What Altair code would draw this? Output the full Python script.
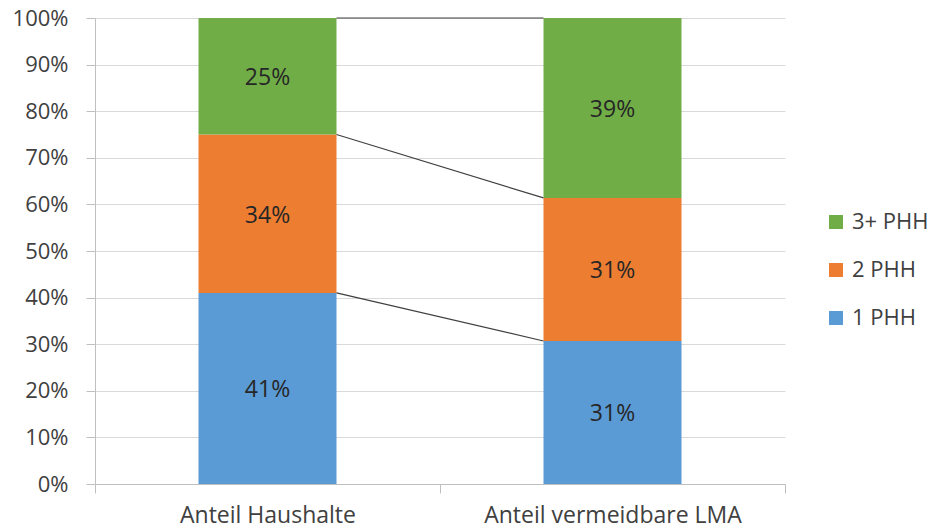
import altair as alt
import pandas as pd

# Share of households vs. share of avoidable food waste (LMA) by household size
categories = ["Anteil Haushalte", "Anteil vermeidbare LMA"]
series = ["1 PHH", "2 PHH", "3+ PHH"]
anteil_haushalte = [41, 34, 25]
anteil_lma = [31, 31, 39]
series_colors = ["#5B9BD5", "#ED7D31", "#70AD47"]

rows = []
for cat, vals in zip(categories, [anteil_haushalte, anteil_lma]):
    for i, (s, v) in enumerate(zip(series, vals)):
        rows.append({"cat": cat, "series": s, "idx": i, "v": v})
df = pd.DataFrame(rows)

FONT = "Open Sans"
TEXT = "#404040"
BAR_BAND = 0.4  # bar width as a share of each category slot

base = alt.Chart(df).transform_stack(
    stack="v",
    groupby=["cat"],
    as_=["lo", "hi"],
    sort=[alt.SortField("idx")],
    offset="normalize",
)

x_enc = alt.X(
    "cat:N",
    scale=alt.Scale(domain=categories, paddingInner=0, paddingOuter=0),
    axis=alt.Axis(
        title=None,
        labelAngle=0,
        labelLimit=0,
        tickBand="extent",
        grid=False,
        domainColor="#BFBFBF",
        tickColor="#BFBFBF",
        tickSize=9,
        labelPadding=11,
        labelFontSize=23,
        labelFont=FONT,
        labelColor=TEXT,
    ),
)

bars = base.mark_bar(width=alt.RelativeBandSize(BAR_BAND)).encode(
    x=x_enc,
    y=alt.Y(
        "lo:Q",
        scale=alt.Scale(domain=[0, 1]),
        axis=alt.Axis(
            title=None,
            values=[i / 10 for i in range(11)],
            format=".0%",
            gridColor="#D9D9D9",
            domainColor="#BFBFBF",
            tickColor="#BFBFBF",
            tickSize=9,
            labelPadding=18,
            labelFontSize=22,
            labelFont=FONT,
            labelColor=TEXT,
        ),
    ),
    y2="hi:Q",
    color=alt.Color(
        "series:N",
        scale=alt.Scale(domain=series[::-1], range=series_colors[::-1]),
        legend=alt.Legend(
            title=None,
            orient="none",
            legendX=730,
            legendY=193,
            symbolType="square",
            symbolSize=196,
            symbolStrokeWidth=0,
            labelFontSize=22,
            labelFont=FONT,
            labelColor=TEXT,
            labelOffset=5,
            rowPadding=26,
        ),
    ),
    order=alt.Order("idx:Q"),
)

labels = base.transform_calculate(
    mid="(datum.lo + datum.hi) / 2", txt="datum.v + '%'"
).mark_text(fontSize=23, font=FONT, color="#262626", dy=2).encode(
    x=alt.X("cat:N"),
    y=alt.Y("mid:Q"),
    text="txt:N",
)

# series connector lines between the top edges of matching segments
half_bar = 690 / len(categories) * BAR_BAND / 2
connectors = base.transform_pivot(
    "cat", value="hi", groupby=["series"]
).mark_rule(
    color="#404040", strokeWidth=1.2, xOffset=half_bar, x2Offset=-half_bar
).encode(
    x=alt.X(datum=categories[0], type="nominal"),
    x2=alt.X2(datum=categories[1]),
    y=alt.Y(f"{categories[0]}:Q"),
    y2=alt.Y2(f"{categories[1]}:Q"),
)

chart = (
    alt.layer(bars, connectors, labels)
    .properties(
        width=690,
        height=466,
        autosize=alt.AutoSizeParams(type="none"),
        padding={"left": 95, "top": 18, "right": 146, "bottom": 46},
        background="white",
    )
    .configure_view(stroke=None)
)

chart.save("out.html", embed_options={"renderer": "svg", "actions": False})
